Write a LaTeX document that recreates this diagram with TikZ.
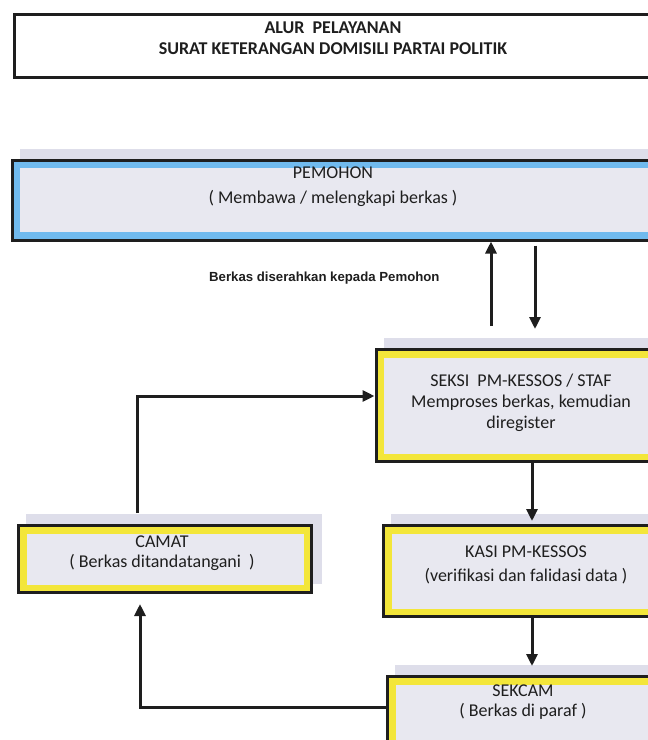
\documentclass[tikz,border=0pt]{standalone}
\usepackage{fontspec}
\setmainfont{Carlito}
\newfontfamily\arialf{Liberation Sans}
\usetikzlibrary{arrows.meta,backgrounds}
\definecolor{bandY}{HTML}{F3E63A}
\definecolor{bandB}{HTML}{70BAEE}
\definecolor{boxfill}{HTML}{E8E8F0}
\definecolor{shadowc}{HTML}{DEDEEA}
\definecolor{ink}{HTML}{1E1E1E}
\tikzset{
  panel/.style={draw=ink, line width=3pt, fill=#1, inner sep=0pt, anchor=north west,
    path picture={\fill[boxfill] ([shift={(8pt,-8pt)}]path picture bounding box.north west) rectangle ([shift={(-8pt,8pt)}]path picture bounding box.south east);}},
  titlebox/.style={draw=ink, line width=3pt, fill=white, inner sep=0pt, anchor=north west},
  txt/.style={font=\fontsize{18}{21}\selectfont, text=ink, align=center, inner sep=0pt},
  arr/.style={draw=ink, line width=3pt, -{Triangle[length=12pt,width=11pt]}},
  shad/.style={fill=shadowc},
}
\begin{document}
\begin{tikzpicture}[x=1pt,y=-1pt]
\useasboundingbox (0,0) rectangle (648,740);

% boxes
\node[titlebox, minimum width=643pt, minimum height=63pt] (title) at (13,13) {};
\node[panel=bandB, minimum width=646pt, minimum height=80pt] (pem) at (10.5,158.5) {};
\node[panel=bandY, minimum width=300pt, minimum height=112pt] (seksi) at (374.5,348) {};
\node[panel=bandY, minimum width=293pt, minimum height=67pt] (camat) at (17,524) {};
\node[panel=bandY, minimum width=290pt, minimum height=91pt] (kasi) at (382,524) {};
\node[panel=bandY, minimum width=290pt, minimum height=90pt] (sekcam) at (386,675) {};

% shadows
\begin{scope}[on background layer]
  \foreach \b in {pem,seksi,camat,kasi,sekcam}{
    \fill[shad] ([shift={(9pt,10pt)}]\b.north west) rectangle ([shift={(9pt,10pt)}]\b.south east);
  }
\end{scope}

% texts
\node[txt, font=\bfseries\fontsize{18}{21}\selectfont] (titleT) at (333,38) {ALUR\ \ PELAYANAN\\SURAT KETERANGAN DOMISILI PARTAI POLITIK};
\node[txt, font=\fontsize{18}{25}\selectfont] (pemT) at (333,187) {PEMOHON\\( Membawa / melengkapi berkas )};
\node[txt] (seksiT) at (521,403) {SEKSI\ \ PM-KESSOS / STAF\\Memproses berkas, kemudian\\diregister};
\node[txt, font=\fontsize{18}{20}\selectfont] (camatT) at (162,553) {CAMAT\\( Berkas ditandatangani\ \ )};
\node[txt, font=\fontsize{18}{24}\selectfont] (kasiT) at (526,565) {KASI PM-KESSOS\\(verifikasi dan falidasi data )};
\node[txt, font=\fontsize{18}{20}\selectfont] (sekcamT) at (523,702) {SEKCAM\\( Berkas di paraf )};
\node[font=\arialf\bfseries\fontsize{13.2}{15}\selectfont, text=ink, anchor=west, inner sep=0pt] (lbl) at (209,278) {Berkas diserahkan kepada Pemohon};

% connectors
\coordinate (upT) at (491,326);
\draw[arr] (upT) -- (upT |- pem.south);
\coordinate (dnT) at (535,329);
\path (pem.south -| dnT) ++(0,4) coordinate (dnS);
\draw[arr] (dnS) -- (dnT);

\coordinate (b1) at (137,396);
\path (camat.north -| b1) ++(0,-11) coordinate (c3s);
\draw[arr] (c3s) -- (b1) -- (b1 -| seksi.west);

\coordinate (colR) at (532,0);
\draw[arr, shorten >=3pt] (seksi.south -| colR) -- (kasi.north -| colR);
\draw[arr, shorten >=9pt] (kasi.south -| colR) -- (sekcam.north -| colR);

\coordinate (b2) at (140,707);
\draw[arr, shorten >=10pt] (b2 -| sekcam.west) -- (b2) -- (b2 |- camat.south);
\end{tikzpicture}
\end{document}
